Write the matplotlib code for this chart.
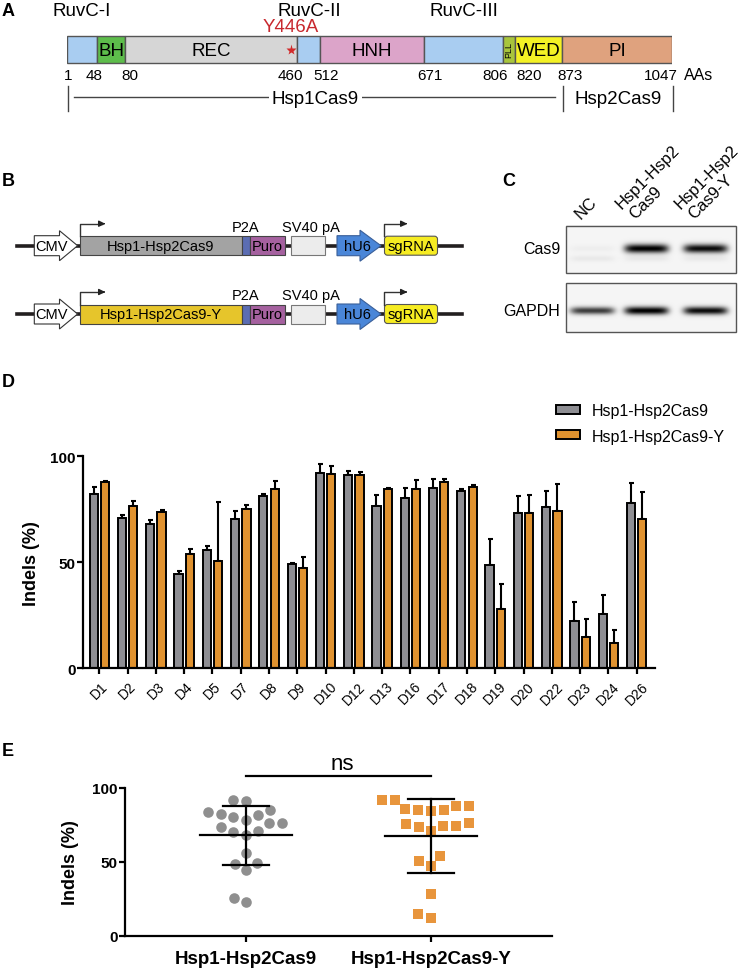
import numpy as np
import matplotlib
matplotlib.use('Agg')
import matplotlib.pyplot as plt
from matplotlib.patches import Rectangle, Polygon, FancyBboxPatch, Patch

plt.rcParams['font.family'] = ['Liberation Sans', 'DejaVu Sans']

W, H = 744, 970

# ---------------- panel A: domain map ----------------
dom_names = ['', 'BH', 'REC', '', 'HNH', '', 'PLL', 'WED', 'PI']
dom_start = [1, 48, 80, 460, 512, 671, 806, 820, 873]
dom_end = [48, 80, 460, 512, 671, 806, 820, 873, 1047]
dom_colors = ['#a9cdf1', '#5dbd4b', '#d6d6d6', '#a9cdf1', '#dca4c9',
              '#a9cdf1', '#a8c53c', '#f3f125', '#dfa27e']
ruvc_names = ['RuvC-I', 'RuvC-II', 'RuvC-III']
ruvc_dom = [0, 3, 5]
mut_label = 'Y446A'
mut_pos = 446
aa_marks = [1, 48, 80, 460, 512, 671, 806, 820, 873, 1047]
part_names = ['Hsp1Cas9', 'Hsp2Cas9']
part_bounds = [(1, 873), (873, 1047)]

# ---------------- panel B: constructs ----------------
cas_labels = ['Hsp1-Hsp2Cas9', 'Hsp1-Hsp2Cas9-Y']
cas_colors = ['#a3a3a3', '#e6c52b']

# ---------------- panel C: western blot ----------------
blot_lanes = [['NC'], ['Hsp1-Hsp2', 'Cas9'], ['Hsp1-Hsp2', 'Cas9-Y']]
cas9_band = [0.03, 1.0, 0.95]
gapdh_band = [0.75, 1.0, 0.95]

# ---------------- panel D: indels per site ----------------
sites = ['D1', 'D2', 'D3', 'D4', 'D5', 'D7', 'D8', 'D9', 'D10', 'D12',
         'D13', 'D16', 'D17', 'D18', 'D19', 'D20', 'D22', 'D23', 'D24', 'D26']
wt_mean = [82.2, 70.9, 68.1, 44.5, 55.8, 70.3, 81.3, 49.2, 92.0, 91.0,
           76.4, 80.5, 84.9, 83.8, 48.7, 73.3, 76.1, 22.5, 25.8, 78.0]
wt_sd = [3.5, 1.6, 2.0, 1.3, 2.1, 4.1, 1.1, 0.5, 4.4, 2.1,
         5.2, 4.7, 4.3, 0.8, 12.3, 7.8, 7.4, 8.9, 8.8, 9.4]
y_mean = [87.9, 76.4, 73.9, 53.8, 50.6, 75.3, 84.6, 47.3, 91.7, 91.4,
          84.4, 84.7, 87.9, 85.4, 28.0, 73.4, 74.4, 14.6, 12.1, 70.6]
y_sd = [0.3, 2.5, 0.9, 2.3, 27.7, 1.9, 3.8, 5.4, 3.9, 1.2,
        0.8, 4.3, 1.3, 1.2, 11.8, 8.4, 12.7, 8.7, 6.0, 12.6]
groups = ['Hsp1-Hsp2Cas9', 'Hsp1-Hsp2Cas9-Y']

GRAY = '#8e8e93'
ORANGE = '#e0922f'


def px_box(x0, y0, x1, y1):
    # pixel box (top-left origin) -> figure fraction rect
    return [x0 / W, 1 - y1 / H, (x1 - x0) / W, (y1 - y0) / H]


def swarm(vals, d, sx, sy):
    # simple beeswarm: offsets in x units so markers d px apart don't overlap
    vals = np.asarray(vals, float)
    xs = np.zeros(len(vals))
    placed = []
    for i in np.argsort(vals):
        y = vals[i] * sy
        near = [(px, py) for px, py in placed if abs(py - y) < d]
        cands = [0.0]
        for px, py in near:
            dx = np.sqrt(d * d - (py - y) ** 2)
            cands += [px - dx, px + dx]
        cands.sort(key=abs)
        for c in cands:
            if all((c - px) ** 2 + (y - py) ** 2 >= d * d - 1e-6 for px, py in near):
                xs[i] = c
                placed.append((c, y))
                break
    return xs / sx


fig = plt.figure(figsize=(W / 100, H / 100), dpi=100)

# background axes in pixel coordinates for the schematic panels
bg = fig.add_axes([0, 0, 1, 1])
bg.axis('off')

for letter, (lx, ly) in zip('ABCDE', [(2, 11), (2, 182), (502, 182), (2, 383), (2, 752)]):
    bg.text(lx, ly, letter, fontsize=13, fontweight='bold', ha='left', va='center')

# ---------------- A ----------------
knots_res = [1, 48, 80, 460, 512, 671, 806, 820, 873, 1047]
knots_px = [66.7, 96.7, 125.5, 297.5, 320.5, 424, 503, 515.5, 562, 672]


def fwd(r):
    return np.interp(r, knots_res, knots_px)


def inv(p):
    return np.interp(p, knots_px, knots_res)


axA = fig.add_axes(px_box(66.7, 0, 672, 115))
axA.set_xscale('function', functions=(fwd, inv))
axA.set_xlim(1, 1047)
axA.set_ylim(115, 0)
axA.axis('off')

for name, s, e, c in zip(dom_names, dom_start, dom_end, dom_colors):
    axA.add_patch(Rectangle((s, 37), e - s, 27, facecolor=c, edgecolor='#555555', lw=1))
    mid = inv((fwd(s) + fwd(e)) / 2)
    if name == 'PLL':
        axA.text(mid, 50.5, name, fontsize=6.5, rotation=90, ha='center', va='center')
    elif name:
        axA.text(mid, 51, name, fontsize=13.5, ha='center', va='center')

for name, i in zip(ruvc_names, ruvc_dom):
    mid = inv((fwd(dom_start[i]) + fwd(dom_end[i])) / 2)
    axA.text(mid, 11, name, fontsize=13.5, ha='center', va='center', clip_on=False)

axA.plot([mut_pos], [50.5], marker='*', color='#d22b2b', ms=8, mec='none')
axA.text(mut_pos, 28, mut_label, color='#c8282e', fontsize=13.5, ha='center', va='center')

num_shift = [1.5, -3, 4, -7.5, 6, 6, -8, 14, 8, -11]
for r, sh in zip(aa_marks, num_shift):
    bg.text(fwd(r) + sh, 76, str(r), fontsize=11, ha='center', va='center')
bg.text(684, 76, 'AAs', fontsize=11.5, ha='left', va='center')

for r in [part_bounds[0][0], part_bounds[1][0], part_bounds[1][1]]:
    bg.plot([fwd(r) + 1, fwd(r) + 1], [87, 112], color='#444444', lw=1)
xa, xb = fwd(part_bounds[0][0]) + 7, fwd(part_bounds[0][1]) - 7
bg.plot([xa, xb], [98, 98], color='#444444', lw=1)
for name, (s, e) in zip(part_names, part_bounds):
    bg.text((fwd(s) + fwd(e)) / 2 + 1, 100, name, fontsize=13.5, ha='center', va='center',
            bbox=dict(facecolor='white', edgecolor='none', pad=2) if name == part_names[0] else None)


# ---------------- B ----------------
def arrow_poly(x0, x1, xh, yc, hb, hh):
    return [(x0, yc - hb), (x1, yc - hb), (x1, yc - hh), (xh, yc),
            (x1, yc + hh), (x1, yc + hb), (x0, yc + hb)]


def promoter(x, yc, length):
    bg.plot([x, x, x + length], [yc - 9.5, yc - 22, yc - 22], color='#333333', lw=1)
    bg.annotate('', xy=(x + length + 6, yc - 22), xytext=(x + length - 1, yc - 22),
                arrowprops=dict(arrowstyle='-|>', color='#222222', lw=1, mutation_scale=9))


def construct(yc, label, color):
    bg.plot([16.7, 462], [yc, yc], color='#231f20', lw=2.6, zorder=1)
    bg.add_patch(Polygon(arrow_poly(34.3, 59.5, 77.6, yc, 10, 15), closed=True,
                         facecolor='white', edgecolor='#333333', lw=0.8, zorder=2))
    bg.text(51, yc, 'CMV', fontsize=10.5, ha='center', va='center', zorder=3)
    bg.add_patch(Rectangle((80, yc - 9.5), 162, 19, facecolor=color, edgecolor='#444444',
                           lw=0.8, zorder=2))
    bg.text(161, yc, label, fontsize=10.5, ha='center', va='center', zorder=3)
    bg.add_patch(Rectangle((242, yc - 9.5), 8, 19, facecolor='#5b6db3', edgecolor='#444444',
                           lw=0.8, zorder=2))
    bg.add_patch(Rectangle((250, yc - 9.5), 35, 19, facecolor='#a5619f', edgecolor='#444444',
                           lw=0.8, zorder=2))
    bg.text(267.5, yc, 'Puro', fontsize=10.5, ha='center', va='center', zorder=3)
    bg.add_patch(Rectangle((290.5, yc - 9.5), 34.7, 19, facecolor='#ececec', edgecolor='#777777',
                           lw=0.8, zorder=2))
    bg.add_patch(Polygon(arrow_poly(337, 360, 381, yc, 10, 15.5), closed=True,
                         facecolor='#4a86d8', edgecolor='#3a5f99', lw=0.8, zorder=2))
    bg.text(357, yc, 'hU6', fontsize=10.5, ha='center', va='center', zorder=3)
    bg.add_patch(FancyBboxPatch((386, yc - 8), 50, 16, boxstyle='round,pad=1.5,rounding_size=3',
                                facecolor='#f6ec22', edgecolor='#555555', lw=0.8, zorder=2))
    bg.text(411, yc, 'sgRNA', fontsize=10.5, ha='center', va='center', zorder=3)
    promoter(80, yc, 22)
    promoter(384, yc, 20)
    bg.text(246, yc - 18.5, 'P2A', fontsize=10.5, ha='center', va='center')
    bg.text(311, yc - 18.5, 'SV40 pA', fontsize=10.5, ha='center', va='center')


for yc, lab, col in zip([246.7, 315], cas_labels, cas_colors):
    construct(yc, lab, col)

# ---------------- C ----------------
lane_x = [592, 646, 705]
bx0, bx1 = 565.7, 735.7
for (y0, y1), yb, inten, thick, name in zip([(226.7, 274.3), (284.3, 333.3)], [250, 311.7],
                                            [cas9_band, gapdh_band], [4.2, 3.8], ['Cas9', 'GAPDH']):
    xs = np.arange(bx0, bx1, 0.5)
    ys = np.arange(y0, y1, 0.5)
    X, Y = np.meshgrid(xs, ys)
    img = np.zeros_like(X)
    for lx, a in zip(lane_x, inten):
        img += a * np.exp(-((X - lx) / 22) ** 6) * np.exp(-((Y - yb) / (thick * (0.75 + 0.3 * a))) ** 2)
        if name == 'Cas9':
            img += 0.05 * np.exp(-((X - lx) / 22) ** 6) * np.exp(-((Y - yb - 10) / 3) ** 2)
    bg.imshow(1 - 0.97 * np.clip(img, 0, 1) - 0.04, cmap='gray', vmin=0, vmax=1,
              extent=(bx0, bx1, y1, y0), aspect='auto', origin='upper', interpolation='bilinear')
    bg.add_patch(Rectangle((bx0, y0), bx1 - bx0, y1 - y0, fill=False, edgecolor='#555555', lw=1))
    bg.text(560, yb, name, fontsize=11.5, ha='right', va='center')

# rotated lane labels, one text per line (bottom line first)
for lx, lines in zip(lane_x, blot_lanes):
    for k, line in enumerate(reversed(lines)):
        bg.text(lx - 11 - 13.3 * k, 220 - 10 * k, line, fontsize=12, rotation=45,
                rotation_mode='anchor', ha='left', va='baseline')

bg.set_xlim(0, W)
bg.set_ylim(H, 0)

# ---------------- D ----------------
axD = fig.add_axes(px_box(82.7, 457.3, 655, 669.3))
x = np.arange(len(sites))
bw = 0.29
axD.bar(x - 0.2, wt_mean, bw, color=GRAY, edgecolor='black', lw=1.4, label=groups[0], zorder=2)
axD.bar(x + 0.2, y_mean, bw, color=ORANGE, edgecolor='black', lw=1.4, label=groups[1], zorder=2)
axD.errorbar(x - 0.2, wt_mean, yerr=[np.zeros(len(x)), wt_sd], fmt='none', ecolor='black',
             elinewidth=1.5, capsize=1.8, capthick=1.5, zorder=1, clip_on=False)
axD.errorbar(x + 0.2, y_mean, yerr=[np.zeros(len(x)), y_sd], fmt='none', ecolor='black',
             elinewidth=1.5, capsize=1.8, capthick=1.5, zorder=1, clip_on=False)
axD.set_xlim(-0.59, 19.65)
axD.set_ylim(0, 100)
axD.set_yticks([0, 50, 100])
axD.set_xticks(x)
axD.set_xticklabels(sites, rotation=45, ha='center', fontsize=10)
for s in ['top', 'right']:
    axD.spines[s].set_visible(False)
for s in ['left', 'bottom']:
    axD.spines[s].set_linewidth(1.6)
axD.tick_params(axis='both', width=1.6, length=4)
axD.tick_params(axis='y', pad=1)
for t in axD.get_yticklabels():
    t.set_fontweight('bold')
    t.set_fontsize(11)
axD.set_ylabel('Indels (%)', fontsize=13, fontweight='bold')
axD.yaxis.set_label_coords(-0.075, 0.5)
handles = [Patch(facecolor=GRAY, edgecolor='black', lw=1.4),
           Patch(facecolor=ORANGE, edgecolor='black', lw=1.4)]
fig.legend(handles, groups, loc='upper left', bbox_to_anchor=(556 / W, 1 - 404 / H),
           frameon=False, fontsize=11.5, handlelength=1.5, handleheight=0.5,
           handletextpad=0.75, labelspacing=0.66, borderpad=0, borderaxespad=0)

# ---------------- E ----------------
axE = fig.add_axes(px_box(124.8, 788.7, 552.4, 936.7))
sx = 185.0
sy = 1.48
for gi, (vals, col, mk, sz) in enumerate([(wt_mean, '#8f8f8f', 'o', 58), (y_mean, '#e8953c', 's', 50)]):
    offs = swarm(vals, 13.0, sx, sy)
    axE.scatter(gi + offs, vals, s=sz, marker=mk, color=col, lw=0, zorder=2, clip_on=False)
    m = np.mean(vals)
    sd = np.std(vals, ddof=1)
    axE.plot([gi - 0.247, gi + 0.247], [m, m], color='black', lw=1.6, zorder=3)
    axE.plot([gi, gi], [m - sd, m + sd], color='black', lw=1.6, zorder=3)
    for yy in [m - sd, m + sd]:
        axE.plot([gi - 0.126, gi + 0.126], [yy, yy], color='black', lw=1.6, zorder=3)

axE.plot([0, 1], [107.7, 107.7], color='black', lw=1.6, clip_on=False)
axE.text(0.52, 109, 'ns', fontsize=16, ha='center', va='bottom')
axE.set_xlim(-0.655, 1.657)
axE.set_ylim(0, 100)
axE.set_yticks([0, 50, 100])
axE.set_xticks([0, 1])
axE.set_xticklabels(groups, fontsize=13.5, fontweight='bold')
for s in ['top', 'right']:
    axE.spines[s].set_visible(False)
for s in ['left', 'bottom']:
    axE.spines[s].set_linewidth(1.6)
axE.tick_params(axis='both', width=1.6, length=4)
axE.tick_params(axis='y', pad=1)
axE.tick_params(axis='x', pad=6)
for t in axE.get_yticklabels():
    t.set_fontweight('bold')
    t.set_fontsize(11)
axE.set_ylabel('Indels (%)', fontsize=13, fontweight='bold')
axE.yaxis.set_label_coords(-0.108, 0.5)

fig.savefig('out.png', dpi=100)
